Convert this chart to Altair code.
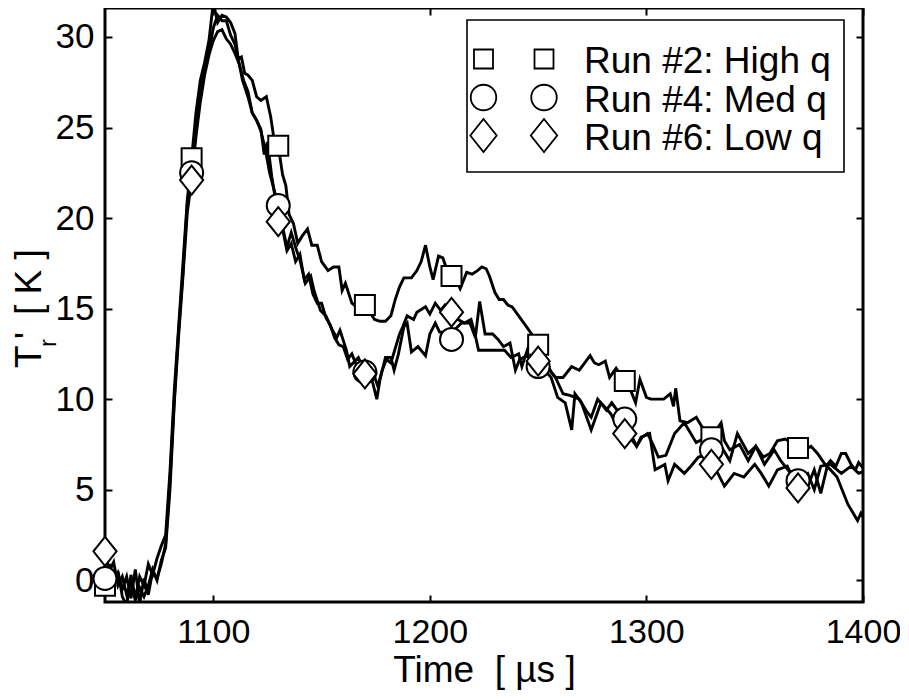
import altair as alt
import pandas as pd

FONT = "Liberation Sans, Arial, Helvetica, sans-serif"

# ---------------- data ----------------
series_names = ["Run #2: High q", "Run #4: Med q", "Run #6: Low q"]

t_high = [1050, 1052, 1054, 1056, 1058, 1060, 1062, 1064, 1066, 1068, 1070, 1072, 1074, 1076, 1078,
          1080, 1082, 1084, 1086, 1088, 1090, 1092, 1094, 1096, 1098, 1100, 1102, 1104, 1106, 1108,
          1110, 1111.5, 1113, 1114.5, 1116, 1118, 1120, 1122, 1124.5, 1126.5, 1128, 1130, 1132, 1133.5,
          1135, 1137, 1139, 1141, 1143.5, 1145.5, 1148, 1150, 1153, 1155.5, 1158, 1159.5, 1161, 1164,
          1166, 1170, 1174.5, 1177, 1179.5, 1182, 1184, 1186, 1188, 1191.5, 1194, 1196, 1198, 1200,
          1201.5, 1204, 1206, 1208, 1210, 1212, 1214, 1217, 1219.5, 1222, 1224, 1226, 1227.5, 1230,
          1232, 1234, 1236, 1238, 1241, 1244, 1247, 1250, 1253, 1256, 1258, 1261.5, 1265.5, 1269,
          1271.5, 1274, 1276, 1278, 1281, 1283, 1286, 1290, 1293, 1295, 1297, 1300, 1302, 1305, 1308,
          1311, 1312.5, 1313.5, 1315.5, 1319, 1323, 1325.5, 1330, 1334.5, 1336, 1338.5, 1343, 1347,
          1350.5, 1354, 1357, 1360.5, 1364, 1367, 1370, 1373, 1376, 1379, 1383, 1385, 1387.5, 1390,
          1392, 1394.5, 1396.5, 1398, 1400]
y_high = [-0.3, 0.4, -0.6, 0.5, -0.9, -1.4, 0.3, -1.0, 0.2, -0.3, 0.9, 0.3, 1.2, 1.9, 2.5,
          6.0, 10.5, 14.0, 17.5, 21.0, 23.3, 25.8, 27.6, 28.6, 29.8, 31.9, 30.8, 31.2, 31.1, 30.8,
          30.2, 28.8, 28.9, 28.0, 27.9, 27.6, 26.7, 26.5, 26.7, 25.6, 24.4, 24.0, 22.4, 21.8,
          20.2, 19.7, 18.6, 19.0, 19.4, 18.5, 18.5, 17.6, 17.1, 17.3, 17.3, 16.0, 16.4, 15.3,
          15.1, 15.2, 14.4, 14.3, 14.3, 14.6, 15.5, 16.2, 16.7, 16.7, 17.1, 17.6, 18.5, 17.3,
          16.6, 17.9, 17.8, 17.1, 16.8, 16.6, 16.1, 17.0, 16.9, 17.1, 17.3, 17.2, 16.8, 15.9,
          15.5, 15.5, 15.2, 15.1, 14.6, 14.1, 13.6, 13.0, 12.3, 11.5, 11.2, 11.2, 11.8, 11.6,
          12.0, 12.4, 12.0, 11.9, 12.1, 11.2, 11.7, 11.0, 10.4, 9.8, 11.1, 10.1, 10.0, 10.0, 10.0,
          10.3, 9.6, 10.6, 8.8, 8.7, 9.0, 8.5, 7.9, 8.7, 7.7, 7.2, 7.5, 6.6,
          7.4, 6.8, 7.0, 7.7, 7.8, 7.6, 7.4, 7.2, 7.4, 7.0, 6.3, 6.6, 6.3, 7.0,
          7.0, 6.4, 6.1, 6.5, 6.2]

t_med = [1050, 1052, 1054, 1056, 1058, 1060, 1062, 1064, 1066, 1068, 1070, 1072, 1074, 1076, 1078,
         1080, 1082, 1084, 1086, 1088, 1090, 1092, 1094, 1096, 1098, 1100, 1102, 1104, 1106, 1108,
         1110, 1112, 1114, 1116, 1118, 1120, 1122, 1124, 1126, 1128, 1130, 1132, 1134, 1136, 1138.5,
         1140, 1142.5, 1145, 1146.5, 1149.5, 1152, 1155, 1157, 1158.5, 1161.5, 1163, 1167, 1170,
         1173, 1175.5, 1177, 1179.5, 1182, 1183.5, 1185.5, 1188, 1189.5, 1191.5, 1194.5, 1198, 1200,
         1202.5, 1204.5, 1207, 1210, 1212, 1214.5, 1218.5, 1221, 1223, 1225.5, 1229, 1231.5, 1234,
         1237, 1239.5, 1241.5, 1245, 1247, 1250, 1253, 1256, 1258, 1261.5, 1265, 1269, 1272, 1274.5,
         1277.5, 1281.5, 1284, 1287, 1290, 1293, 1295.5, 1298, 1300.5, 1303, 1305.5, 1309, 1313,
         1317.5, 1320, 1323, 1326, 1330, 1334.5, 1338.5, 1342, 1347, 1350.5, 1354.5, 1359, 1362,
         1366, 1370, 1374.5, 1377.5, 1380.5, 1385, 1390, 1394.5, 1398, 1400]
y_med = [0.1, 0.9, -0.2, 0.4, -0.5, 0.2, -1.0, 0.6, -1.3, 0.1, -0.8, 0.5, 0.1, 0.9, 2.0,
         5.5, 10.0, 13.8, 17.0, 20.8, 22.5, 24.8, 26.8, 28.2, 29.2, 30.5, 31.2, 30.9, 30.9, 30.1,
         29.6, 28.5, 27.6, 27.0, 25.8, 25.4, 24.8, 23.8, 22.5, 21.6, 20.7, 19.5, 18.4, 19.2, 18.2,
         17.7, 16.4, 16.8, 16.0, 14.9, 14.6, 13.8, 13.4, 13.8, 12.7, 11.8, 12.3, 11.5,
         11.2, 10.0, 11.1, 12.3, 12.3, 11.6, 12.5, 14.0, 14.2, 12.6, 12.9, 12.4, 13.6,
         14.2, 13.7, 13.7, 13.3, 13.9, 14.2, 14.2, 13.4, 15.4, 13.6, 13.6, 13.3, 12.9,
         13.1, 11.6, 12.2, 12.4, 12.0, 11.8, 11.8, 11.5, 11.2, 10.3, 10.2, 10.0, 9.4, 9.0,
         10.0, 9.4, 9.8, 9.3, 8.9, 8.0, 7.4, 7.9, 8.1, 7.5, 6.8, 6.9, 8.1,
         8.7, 8.2, 7.6, 7.8, 7.2, 7.4, 6.6, 8.1, 7.0, 7.4, 6.4, 7.2, 6.6,
         6.0, 5.5, 5.9, 5.0, 6.3, 6.4, 5.9, 6.3, 5.9, 6.0]

t_low = [1050, 1052, 1054, 1056, 1058, 1060, 1062, 1064, 1066, 1068, 1070, 1072, 1074, 1076, 1078,
         1080, 1082, 1084, 1086, 1088, 1090, 1092, 1094, 1096, 1098, 1100, 1102, 1104, 1106, 1108,
         1110, 1112, 1113.5, 1116, 1118, 1120, 1122, 1123.5, 1125, 1127, 1129, 1130, 1132, 1134, 1136,
         1138, 1140, 1142, 1144, 1146, 1148, 1150, 1152, 1154, 1156, 1158, 1160, 1162, 1164, 1166,
         1170, 1172, 1174, 1176, 1178, 1180, 1182, 1184, 1186, 1187.5, 1189.5, 1192.5, 1194, 1198,
         1200, 1202.5, 1205, 1207, 1210, 1213, 1216, 1219, 1221, 1222.5, 1225.5, 1230, 1234.5,
         1237.5, 1241, 1242.5, 1245.5, 1250, 1253, 1256, 1259, 1262.5, 1265.5, 1267, 1270, 1274.5,
         1279, 1283.5, 1286, 1290, 1293, 1295.5, 1297.5, 1301.5, 1304, 1308.5, 1310, 1313, 1317.5,
         1320.5, 1324, 1327, 1330, 1333, 1336, 1340.5, 1345, 1350, 1353, 1356.5, 1360.5, 1365,
         1370, 1374.5, 1377.5, 1380.5, 1383.5, 1388, 1393, 1397.5, 1399, 1400]
y_low = [1.6, 0.5, 1.0, -0.3, 0.2, -0.8, -0.1, -1.1, -0.4, -0.9, -0.3, 0.6, 0.0, 1.1, 1.8,
         5.0, 9.8, 13.5, 16.8, 20.3, 22.1, 24.5, 26.4, 27.9, 29.0, 29.8, 30.3, 30.4, 29.9, 29.6,
         29.1, 28.5, 27.6, 26.7, 25.8, 25.4, 24.9, 23.5, 24.2, 22.3, 20.8, 19.8, 19.4, 18.2, 18.6,
         17.6, 18.0, 16.6, 16.9, 15.8, 15.3, 15.3, 14.5, 14.1, 13.4, 13.0, 12.9, 12.2, 12.5, 11.9,
         11.3, 11.6, 11.4, 10.7, 11.6, 12.2, 12.0, 12.8, 13.6, 14.0, 14.6, 14.4, 14.8, 15.1,
         14.7, 15.3, 14.9, 15.2, 14.8, 14.4, 14.2, 14.4, 13.5, 12.7, 12.7, 12.7, 12.7,
         12.3, 12.5, 11.8, 12.9, 12.1, 11.6, 11.2, 10.1, 9.8, 8.3, 10.3, 9.8, 8.3,
         9.8, 9.2, 8.6, 8.1, 7.8, 7.4, 7.9, 8.1, 6.1, 6.4, 5.5, 6.4, 5.9,
         6.3, 6.8, 6.9, 6.4, 5.9, 5.2, 5.9, 5.7, 6.4, 5.9, 5.2, 6.1, 6.3,
         5.1, 5.2, 6.1, 4.8, 6.3, 5.7, 4.2, 3.3, 3.7, 3.5]

marker_t = [1050, 1090, 1130, 1170, 1210, 1250, 1290, 1330, 1370]
marker_high = [-0.3, 23.3, 24.0, 15.2, 16.8, 13.0, 11.0, 7.9, 7.3]
marker_med = [0.1, 22.5, 20.7, 11.5, 13.3, 11.8, 8.9, 7.2, 5.5]
marker_low = [1.6, 22.1, 19.8, 11.4, 14.8, 12.1, 8.1, 6.4, 5.1]

x_ticks = [1100, 1200, 1300, 1400]
y_ticks = [0, 5, 10, 15, 20, 25, 30]
x_domain = [1050, 1400]
y_domain = [-1.2, 31.6]

x_title = "Time \u00a0[ µs ]"
y_title_parts = ["T", "'", "r", "[ K ]"]

# ---------------- tables ----------------
df_lines = pd.concat([
    pd.DataFrame({"series": series_names[0], "t": t_high, "y": y_high}),
    pd.DataFrame({"series": series_names[1], "t": t_med, "y": y_med}),
    pd.DataFrame({"series": series_names[2], "t": t_low, "y": y_low}),
], ignore_index=True)

marker_vals = [marker_high, marker_med, marker_low]
df_markers = [pd.DataFrame({"t": marker_t, "y": v}) for v in marker_vals]
df_all_markers = pd.concat(df_markers, ignore_index=True)

W, H = 758, 594
xs = alt.Scale(domain=x_domain, nice=False, zero=False)
ys = alt.Scale(domain=y_domain, nice=False, zero=False)

DIAMOND = "M0,-1L0.8,0L0,1L-0.8,0Z"
shapes = ["square", "circle", DIAMOND]
plot_sizes = [400, 530, 840]
legend_sizes = [361, 650, 1089]

# ---------------- layers ----------------
lines = alt.Chart(df_lines).mark_line(clip=True, color="black", strokeWidth=2.9).encode(
    x=alt.X("t:Q", scale=xs, axis=alt.Axis(
        orient="bottom", values=x_ticks, format="d", ticks=False, tickSize=0, domain=False,
        grid=False, labelFlush=False, labelFont=FONT, labelFontSize=34, labelColor="black",
        labelPadding=13, title=x_title, titleFont=FONT, titleFontSize=37,
        titleFontWeight="normal", titleColor="black", titlePadding=3)),
    y=alt.Y("y:Q", scale=ys, axis=alt.Axis(
        orient="left", values=y_ticks, format="d", ticks=False, tickSize=0, domain=False,
        grid=False, labelFlush=False, labelFont=FONT, labelFontSize=35, labelColor="black",
        labelPadding=11, title=None)),
    detail="series:N",
)

marker_layers = []
for i in range(3):
    marker_layers.append(
        alt.Chart(df_markers[i]).mark_point(
            shape=shapes[i], size=plot_sizes[i], filled=True, fill="white",
            stroke="black", strokeWidth=2, opacity=1
        ).encode(
            x=alt.X("t:Q", scale=xs, axis=None),
            y=alt.Y("y:Q", scale=ys, axis=None),
        )
    )

tick_common = dict(labels=False, domain=False, grid=False, ticks=True, tickSize=7,
                   tickWidth=2, tickColor="black", title=None)
ticks_a = alt.Chart(df_all_markers).mark_point(opacity=0).encode(
    x=alt.X("t:Q", scale=xs, axis=alt.Axis(orient="top", offset=-H, values=x_ticks, **tick_common)),
    y=alt.Y("y:Q", scale=ys, axis=alt.Axis(orient="right", offset=-W, values=y_ticks, **tick_common)),
)
ticks_b = alt.Chart(df_all_markers).mark_point(opacity=0).encode(
    x=alt.X("t:Q", scale=xs, axis=alt.Axis(orient="bottom", offset=-H, values=x_ticks, **tick_common)),
    y=alt.Y("y:Q", scale=ys, axis=alt.Axis(orient="left", offset=-W, values=y_ticks, **tick_common)),
)

# legend (drawn box with two symbols per entry)
one = pd.DataFrame({"k": [0]})
legend_box = alt.Chart(one).mark_rect(fill="white", stroke="black", strokeWidth=1.6).encode(
    x=alt.value(362), x2=alt.value(739), y=alt.value(12), y2=alt.value(164)
)
legend_layers = [legend_box]
row_y = [51, 89.5, 127.5]
for i in range(3):
    df_lab = pd.DataFrame({"label": [series_names[i]]})
    for cx in (378.5, 439):
        legend_layers.append(
            alt.Chart(df_lab).mark_point(
                shape=shapes[i], size=legend_sizes[i], filled=True, fill="white",
                stroke="black", strokeWidth=1.8, opacity=1
            ).encode(x=alt.value(cx), y=alt.value(row_y[i]))
        )
    legend_layers.append(
        alt.Chart(df_lab).mark_text(
            align="left", baseline="alphabetic", font=FONT, fontSize=37, color="black"
        ).encode(x=alt.value(479), y=alt.value(row_y[i] + 14), text="label:N")
    )

# y title: T with prime superscript and r subscript, then [ K ]
ytitle_specs = [
    (y_title_parts[0], -64, 360, 37),
    (y_title_parts[1], -64, 331, 37),
    (y_title_parts[2], -49, 339, 24),
    (y_title_parts[3], -64, 307, 37),
]
ytitle_layers = []
for txt, xx, yy, fs in ytitle_specs:
    ytitle_layers.append(
        alt.Chart(pd.DataFrame({"s": [txt]})).mark_text(
            align="left", baseline="alphabetic", angle=270, font=FONT, fontSize=fs, color="black"
        ).encode(x=alt.value(xx), y=alt.value(yy), text="s:N")
    )

chart = alt.layer(
    lines, *marker_layers, ticks_a, ticks_b, *legend_layers, *ytitle_layers
).resolve_axis(
    x="independent", y="independent"
).properties(
    width=W, height=H,
    autosize=alt.AutoSizeParams(type="none"),
    padding={"left": 97, "top": 0, "right": 37, "bottom": 90},
    background="white",
).configure_view(
    stroke="black", strokeWidth=3
)

chart.save("out.html", embed_options={"renderer": "svg", "actions": False})
